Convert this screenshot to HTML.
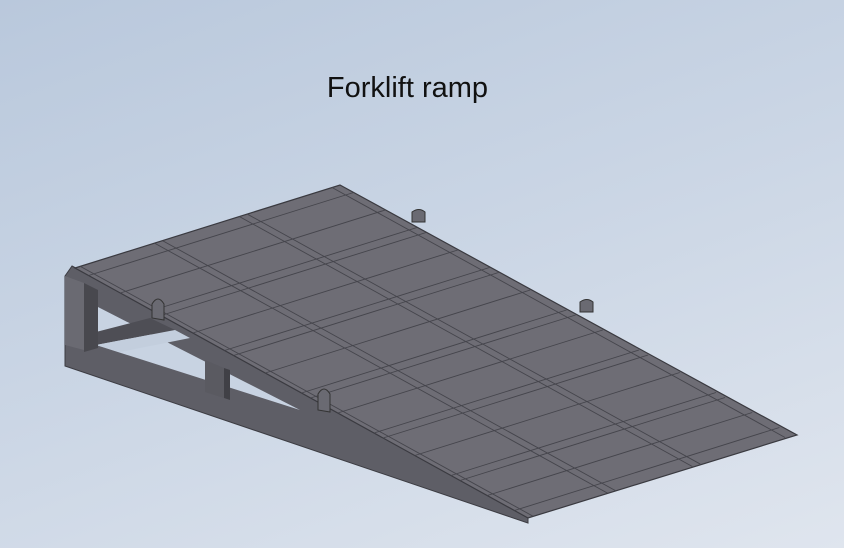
<!DOCTYPE html>
<html><head><meta charset="utf-8"><style>
html,body{margin:0;padding:0}
body{width:844px;height:548px;overflow:hidden;background:linear-gradient(160deg,#b9c8dc 0%,#cbd6e5 50%,#dfe5ee 100%);position:relative;font-family:"Liberation Sans",sans-serif}
.t{position:absolute;left:0;width:815px;top:72px;text-align:center;font-size:29px;color:#111}
svg{position:absolute;left:0;top:0}
</style></head><body>
<div class="t">Forklift ramp</div>
<svg id="s" width="844" height="548" viewBox="0 0 844 548">
<polygon points="72,266 528,514 528,523 65,366 65,276" fill="#5e5e66" stroke="#3c3c42" stroke-width="1"/>
<polygon points="65,276 84,283 84,350 65,345" fill="#6a6a72"/>
<polygon points="96,306 300,410 96,345" fill="#c8d3e2"/>
<polygon points="96,332 150,318 175,330 96,345" fill="#4e4e55"/>
<polygon points="96,345 175,330 190,338 120,352" fill="#c3cedd"/>
<polygon points="84,283 98,290 98,348 84,352" fill="#48484e"/>
<polygon points="205,360 224,368 224,398 205,392" fill="#5a5a61"/>
<polygon points="224,368 230,370 230,400 224,398" fill="#404046"/>
<polygon points="75,268 340,185 797,435 528,518" fill="#6e6d75" stroke="#3a3a40" stroke-width="1.2"/>
<g id="g" stroke="#45454c" stroke-width="0.9" fill="none"></g>
<g fill="#6a6a72" stroke="#333" stroke-width="1">
<path d="M152,318 l0,-14 q6,-10 12,0 l0,16 z"/>
<path d="M318,410 l0,-16 q6,-10 12,0 l0,18 z"/>
<path d="M412,222 l0,-10 q7,-5 13,0 l0,10 z"/>
<path d="M580,312 l0,-10 q7,-5 13,0 l0,10 z"/>
</g>
</svg>
<script>
var A=[75,268],B=[340,185],D=[528,518];
function P(u,v){return [A[0]+u*(B[0]-A[0])+v*(D[0]-A[0]),A[1]+u*(B[1]-A[1])+v*(D[1]-A[1])];}
var g=document.getElementById('g'),h='';
function L(a,b){h+='<line x1="'+a[0]+'" y1="'+a[1]+'" x2="'+b[0]+'" y2="'+b[1]+'"/>';}
[0.02,0.3,0.33,0.62,0.65,0.97].forEach(function(u){L(P(u,0),P(u,1));});
[0.03,0.17,0.19,0.33,0.35,0.5,0.52,0.66,0.68,0.83,0.85,0.97].forEach(function(v){L(P(0,v),P(1,v));});
[0.1,0.26,0.42,0.58,0.75,0.91].forEach(function(v){L(P(0,v),P(1,v));});
g.innerHTML=h;
</script>
</body></html>
